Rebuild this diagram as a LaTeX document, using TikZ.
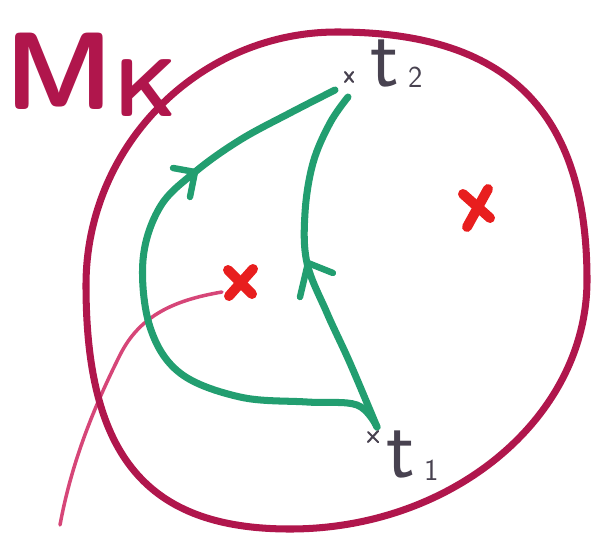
\documentclass[tikz,border=0pt]{standalone}
\usepackage{fontspec}
\definecolor{maroon}{RGB}{176,22,76}
\definecolor{pathgreen}{RGB}{34,158,112}
\definecolor{markred}{RGB}{232,30,30}
\definecolor{linkpink}{RGB}{214,70,120}
\definecolor{inkgray}{RGB}{72,66,80}
\tikzset{
  rim/.style={draw=maroon, line width=6pt, line cap=round, line join=round},
  gpath/.style={draw=pathgreen, line width=6pt, line cap=round, line join=round},
  chev/.style={draw=pathgreen, line width=5.5pt, line cap=round, line join=round},
  redx/.style={draw=markred, line width=8.5pt, line cap=round},
  tinyx/.style={draw=inkgray, line width=1.8pt, line cap=round},
  plink/.style={draw=linkpink, line width=3pt, line cap=round},
  lbl/.style={inner sep=0pt, text=inkgray, font=\sffamily},
}
\begin{document}
\begin{tikzpicture}[x=0.03cm, y=-0.03cm]
\useasboundingbox (0,0) rectangle (591,535);
% named points
\coordinate (t1) at (373,437);
\coordinate (t2) at (349,77);
\coordinate (junc) at (377,427);
\coordinate (xa) at (240,282);
\coordinate (xb) at (477,207);
\coordinate (pinkend) at (60,525);
% pink line
\draw[plink] (xa) ++(-18,10) .. controls (175,300) and (140,315) .. (120,355)
  .. controls (95,405) and (72,460) .. (pinkend);
% big rim
\coordinate (rT) at (337,32);
\coordinate (rR) at (587,280);
\coordinate (rB) at (290,529);
\coordinate (rL) at (86,285);
\draw[rim] (rT) .. controls (507,32) and (587,111) .. (rR)
  .. controls (587,417) and (453,529) .. (rB)
  .. controls (147,529) and (86,456) .. (rL)
  .. controls (86,146) and (199,32) .. (rT) -- cycle;
% label M_K
\node[inner sep=0pt, anchor=base west, text=maroon, font=\fontsize{94}{94}\selectfont\sffamily\bfseries] (mlab) at (5,110) {M};
\node[inner sep=0pt, anchor=base west, text=maroon, font=\fontsize{70}{70}\selectfont\sffamily\bfseries] (klab) at (114,116) {K};
% green paths
\draw[gpath] plot[smooth, tension=0.6] coordinates {
 (junc) (357,405) (307,402) (240,397) (180,373) (150,327) (143,260)
 (160,207) (195,172) (240,140) (290,113) (335,90)};
\draw[gpath] plot[smooth, tension=0.6] coordinates {
 (junc) (350,363) (327,313) (307,263) (305,213) (313,163) (330,123) (348,97)};
% arrow chevrons
\coordinate (ha) at (195,172);
\coordinate (hb) at (308,263);
\draw[chev] (173,168) -- (ha) -- (190,197);
\draw[chev] (333,273) -- (hb) -- (300,297);
% red crosses
\draw[redx] (xa) ++(-12,-12) -- ++(24,24);
\draw[redx] (xa) ++(13,-13) -- ++(-24,27);
\draw[redx] (xb) ++(-14,-13) -- ++(27,24);
\draw[redx] (xb) ++(11,-18) -- ++(-21,38);
% small point crosses
\draw[tinyx] (t2) ++(-4,-5) -- ++(8,10);
\draw[tinyx] (t2) ++(4,-5) -- ++(-8,10);
\draw[tinyx] (t1) ++(-5,-5) -- ++(10,10);
\draw[tinyx] (t1) ++(5,-6) -- ++(-10,11);
% labels t2, t1
\node[lbl, anchor=base west, font=\fontsize{72}{72}\selectfont\sffamily] (t2t) at (370,86) {t};
\node[lbl, anchor=base west, font=\fontsize{26}{26}\selectfont\sffamily] (t2s) at (408,87) {2};
\node[lbl, anchor=base west, font=\fontsize{72}{72}\selectfont\sffamily] (t1t) at (386,477) {t};
\node[lbl, anchor=base west, font=\fontsize{26}{26}\selectfont\sffamily] (t1s) at (424,480) {1};
\end{tikzpicture}
\end{document}
